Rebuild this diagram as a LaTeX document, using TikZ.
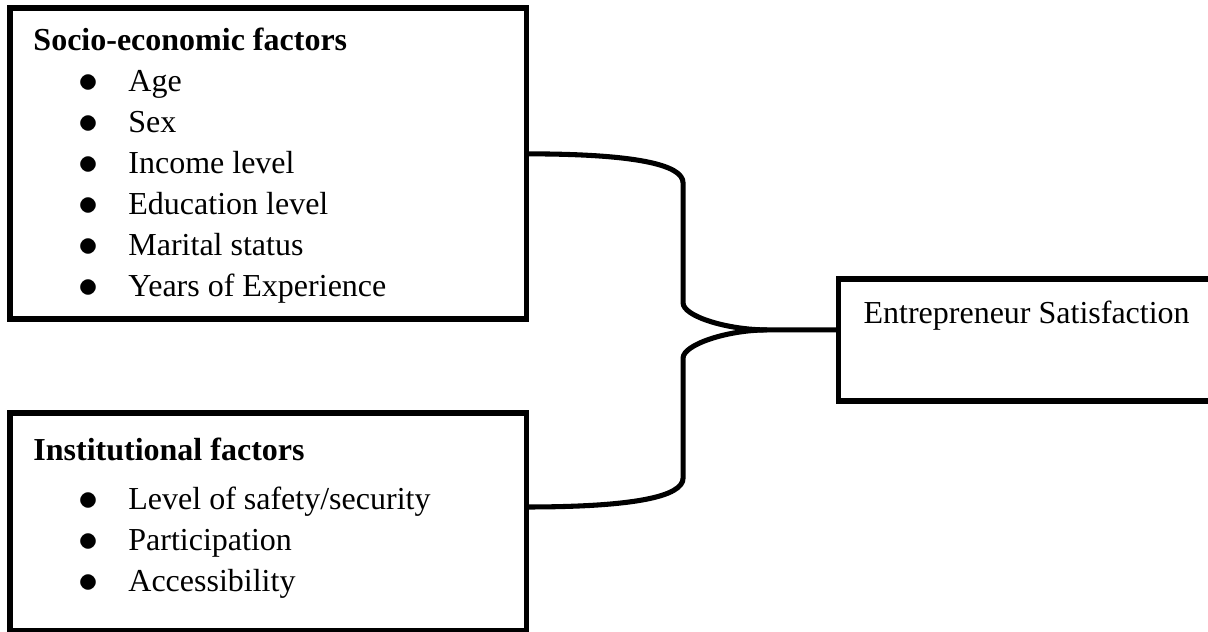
\documentclass[tikz,border=0pt]{standalone}
\usepackage{fontspec}
\setmainfont{Liberation Serif}
\usetikzlibrary{positioning}
\newcommand{\bul}[1]{\makebox[35.6pt][l]{\hspace{17pt}\raisebox{-0.4pt}{\scalebox{1.25}{$\bullet$}}}#1}

\begin{document}
\begin{tikzpicture}[box/.style={rectangle, draw, line width=2pt, outer sep=0pt}, txt/.style={inner sep=0pt, align=left, font=\fontsize{12}{15.4}\selectfont}, brace/.style={line width=1.9pt, line join=round}]
  \useasboundingbox (0,0) rectangle (453pt,-237pt);
  \clip (0,0) rectangle (453pt,-237pt);
  % boxes
  \node [box, minimum width=193.7pt, minimum height=116.6pt, anchor=north west] (socio) at (3.75pt,-3pt) {};
  \node [box, minimum width=193.7pt, minimum height=81.75pt][below=35.25pt of socio] (inst) {};
  \node [box, minimum width=140pt, minimum height=45.75pt][below right=101.6pt and 117pt of socio.north east] (satis) {};

  % texts
  \node [txt][below right=3.75pt and 8.6pt of socio.north west] (sociotext) {\rule{0pt}{12pt}\textbf{Socio-economic factors}\\ \bul{Age}\\ \bul{Sex}\\ \bul{Income level}\\ \bul{Education level}\\ \bul{Marital status}\\ \bul{Years of Experience}};
  \node [txt][below right=5.6pt and 8.6pt of inst.north west] (insttext) {\rule{0pt}{12pt}\textbf{Institutional factors}\\[3pt] \bul{Level of safety/security}\\ \bul{Participation}\\ \bul{Accessibility}};
  \node [txt][below right=4.5pt and 9.2pt of satis.north west] (satistext) {\rule{0pt}{12pt}Entrepreneur Satisfaction};

  % edges
  \coordinate (tip) at ([xshift=-26.8pt, yshift=3.75pt]satis.west);
  \draw [brace] ([yshift=3.6pt]socio.east) .. controls +(40pt,0pt) and +(0pt,7pt) .. ++(58.7pt,-10.9pt) -- ++(0pt,-45pt) .. controls +(0pt,-5pt) and +(-15pt,0pt) .. (tip) -- (tip -| satis.west);
  \draw [brace] ([yshift=5.6pt]inst.east) .. controls +(40pt,0pt) and +(0pt,-7pt) .. ++(58.7pt,10.85pt) -- ++(0pt,45pt) .. controls +(0pt,5pt) and +(-15pt,0pt) .. (tip);
\end{tikzpicture}
\end{document}
